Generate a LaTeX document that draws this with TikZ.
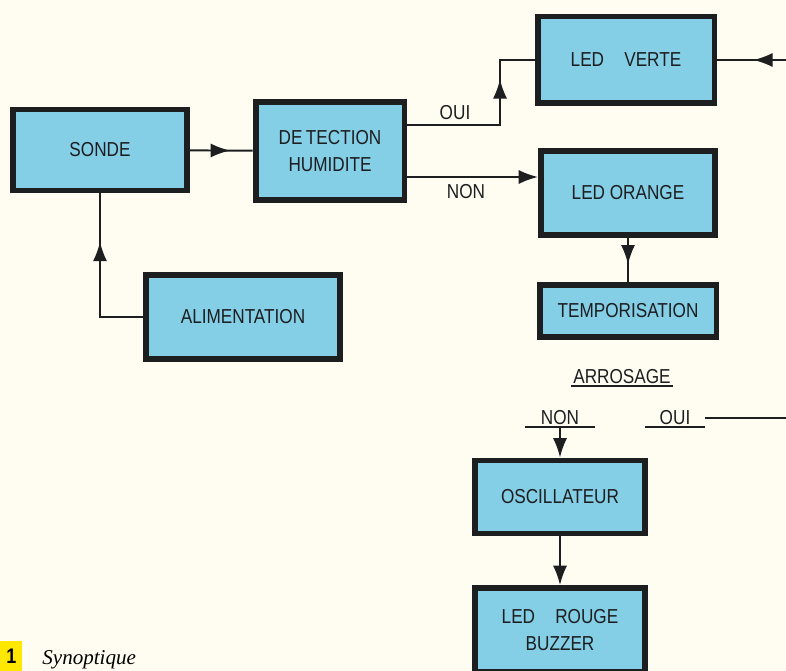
\documentclass[tikz,border=0pt]{standalone}
\usepackage{fontspec}
\setmainfont{Liberation Sans}[FakeStretch=0.85]
\newfontfamily\capfont{Liberation Serif}
\usetikzlibrary{arrows.meta,decorations.markings}
\definecolor{boxblue}{RGB}{132,206,230}
\definecolor{paper}{RGB}{255,253,242}
\definecolor{ink}{RGB}{28,30,32}
\definecolor{capyellow}{RGB}{255,232,0}

\begin{document}
\begin{tikzpicture}[x=0.02cm,y=-0.02cm,
  box/.style={draw=ink,line width=3.4pt,fill=boxblue,align=center,text=ink,font=\fontsize{11.5}{15}\selectfont},
  wire/.style={draw=ink,line width=1.1pt},
  tip/.style={-{Latex[length=11pt,width=8pt]}},
  midarrow/.style={postaction={decorate},decoration={markings,mark=at position #1 with {\arrow{Latex[length=11pt,width=8pt]}}}},
  lbl/.style={text=ink,inner sep=1pt,font=\fontsize{11.5}{15}\selectfont}]
\useasboundingbox (0,0) rectangle (786,671);
\clip (0,0) rectangle (786,671);
\fill[paper] (0,0) rectangle (786,671);

\node[box,minimum width=3.48cm,minimum height=1.62cm] (sonde) at (100,150) {SONDE};
\node[box,minimum width=2.98cm,minimum height=1.96cm] (detect) at (330,151) {DE\kern2pt TECTION\\HUMIDITE};
\node[box,minimum width=3.54cm,minimum height=1.74cm] (verte) at (626,60) {LED\quad VERTE};
\node[box,minimum width=3.48cm,minimum height=1.68cm] (orange) at (628,193) {LED ORANGE};
\node[box,minimum width=3.54cm,minimum height=1.04cm] (tempo) at (628,311) {TEMPORISATION};
\node[box,minimum width=3.88cm,minimum height=1.68cm] (alim) at (243,317) {ALIMENTATION};
\node[box,minimum width=3.40cm,minimum height=1.46cm] (oscil) at (560,497) {OSCILLATEUR};
\node[box,minimum width=3.40cm,minimum height=1.68cm] (rouge) at (560,630) {LED\quad ROUGE\\BUZZER};

\node[lbl] (oui) at (455,113) {OUI};
\node[lbl] (non) at (466,192) {NON};
\node[lbl] (arrosage) at (622,377) {ARROSAGE};
\node[lbl,inner xsep=9pt] (nonar) at (560,418) {NON};
\node[lbl,inner xsep=8pt] (ouiar) at (675,418) {OUI};
\foreach \n in {arrosage,nonar,ouiar}
  \draw[wire] (\n.south west) -- (\n.south east);

\draw[wire,midarrow=0.64] (sonde) -- (detect);
\draw[wire,midarrow=0.72] (detect.east |- 0,125) -- (500,125) |- (verte.west);
\draw[wire,tip] (detect.east |- 0,177) -- (orange.west |- 0,177);
\draw[wire,midarrow=0.71] (alim.west) -| (sonde.south);
\draw[wire,midarrow=0.6] (orange) -- (tempo);
\draw[wire,tip] (nonar.south) -- (oscil);
\draw[wire,tip] (oscil) -- (rouge);
\draw[wire,midarrow=0.94] (ouiar.east) -- (830,418) |- (verte.east);

\node[fill=capyellow,anchor=north west,minimum width=0.44cm,minimum height=0.6cm,inner sep=0pt,font=\bfseries\fontsize{12}{14}\selectfont] (fignum) at (0,641) {1};
\node[anchor=base west,inner sep=0pt,font=\capfont\itshape\fontsize{12}{14}\selectfont] (figcap) at (42,664) {Synoptique};
\end{tikzpicture}
\end{document}
